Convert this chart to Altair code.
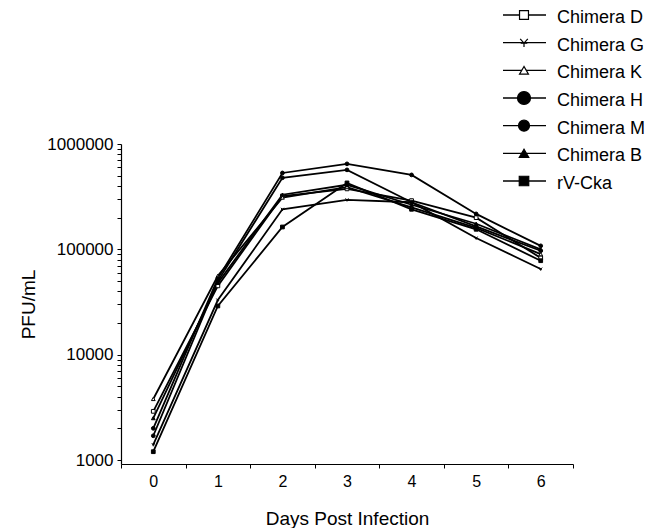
import altair as alt
import pandas as pd

# ---- data ----
days = [0, 1, 2, 3, 4, 5, 6]
series = ["Chimera D", "Chimera G", "Chimera K", "Chimera H",
          "Chimera M", "Chimera B", "rV-Cka"]

chimera_d = [2900, 45000, 321000, 375000, 290000, 200000, 83000]
chimera_g = [1400, 33000, 240000, 295000, 280000, 128000, 65000]
chimera_k = [3800, 56000, 310000, 390000, 250000, 160000, 90000]
chimera_h = [2000, 53000, 531000, 648000, 509000, 217000, 108000]
chimera_m = [1700, 50000, 478000, 568000, 280000, 165000, 97000]
chimera_b = [2500, 48000, 330000, 410000, 265000, 175000, 100000]
rv_cka = [1200, 29000, 163000, 427000, 240000, 155000, 78000]

y_ticks_major = [1000, 10000, 100000, 1000000]

# ---- styles ----
G_PATH = "M-0.8,-0.8L0,0.1L0.8,-0.8M0,0.1V0.9M-0.7,0.1H0.7"
shapes = ["square", G_PATH, "triangle-up", "circle", "circle", "triangle-up", "square"]
fills = ["white", "transparent", "white", "black", "black", "black", "black"]
legend_sizes = [80, 90, 80, 170, 120, 90, 90]
FONT = "Liberation Sans"

values = [chimera_d, chimera_g, chimera_k, chimera_h, chimera_m, chimera_b, rv_cka]
rows = []
for name, vals in zip(series, values):
    for d, v in zip(days, vals):
        rows.append({"series": name, "day": d, "pfu": v})
df = pd.DataFrame(rows)

y_ticks = []
for base in [1000, 10000, 100000]:
    for m in range(1, 10):
        y_ticks.append(base * m)
y_ticks.append(1000000)

label_expr = " || ".join(f"datum.value == {v}" for v in y_ticks_major)
label_expr = f"({label_expr}) ? format(datum.value, 'd') : ''"

x_enc = alt.X(
    "day:O",
    bandPosition=0.5,
    scale=alt.Scale(type="band", paddingInner=0, paddingOuter=0),
    axis=alt.Axis(tickBand="extent", labelAngle=0, title="Days Post Infection",
                  tickSize=4, labelPadding=5, titlePadding=20,
                  labelFontSize=16, titleFontSize=19, titleFontWeight="normal"),
)
y_enc = alt.Y(
    "pfu:Q",
    scale=alt.Scale(type="log", domain=[917, 1000000]),
    axis=alt.Axis(values=y_ticks, labelExpr=label_expr, title="PFU/mL",
                  tickSize=4, labelPadding=4, titlePadding=8,
                  labelFontSize=17, titleFontSize=19, titleFontWeight="normal"),
)

shape_scale = alt.Scale(domain=series, range=shapes)
fill_scale = alt.Scale(domain=series, range=fills)

lines = alt.Chart(df).mark_line(color="black", strokeWidth=1.8).encode(
    x=x_enc, y=y_enc, detail="series:N"
)
points = alt.Chart(df).mark_point(filled=True, stroke="black", strokeWidth=1, opacity=1, size=14).encode(
    x=x_enc, y=y_enc,
    shape=alt.Shape("series:N", scale=shape_scale, legend=None),
    fill=alt.Fill("series:N", scale=fill_scale, legend=None),
)
main = alt.layer(lines, points)

# ---- legend drawn as a layer ----
leg_df = pd.DataFrame({"series": series, "lsize": legend_sizes})
ly = alt.Y("series:N", scale=alt.Scale(type="point", domain=series, range=[-129, 37], padding=0), axis=None)
leg_rule = alt.Chart(leg_df).mark_rule(color="black", strokeWidth=1.3).encode(
    x=alt.value(382), x2=alt.value(425), y=ly
)
leg_pts = alt.Chart(leg_df).mark_point(filled=True, stroke="black", strokeWidth=1.2, opacity=1).encode(
    x=alt.value(403), y=ly,
    shape=alt.Shape("series:N", scale=shape_scale, legend=None),
    fill=alt.Fill("series:N", scale=fill_scale, legend=None),
    size=alt.Size("lsize:Q", scale=None, legend=None),
)
leg_text = alt.Chart(leg_df).mark_text(align="left", baseline="middle", fontSize=18, dy=3, font=FONT, color="black").encode(
    x=alt.value(436), y=ly, text="series:N"
)
legend = alt.layer(leg_rule, leg_pts, leg_text)

chart = alt.layer(main, legend).resolve_scale(y="independent").properties(
    width=452, height=320,
    padding={"left": 11, "top": 0, "right": 0, "bottom": 0},
).configure_view(stroke=None).configure_axis(
    grid=False, domainColor="black", tickColor="black", labelColor="black",
    titleColor="black", labelFont=FONT, titleFont=FONT, domainWidth=1.2,
)

chart.save("out.html", embed_options={"renderer": "svg", "actions": False})
